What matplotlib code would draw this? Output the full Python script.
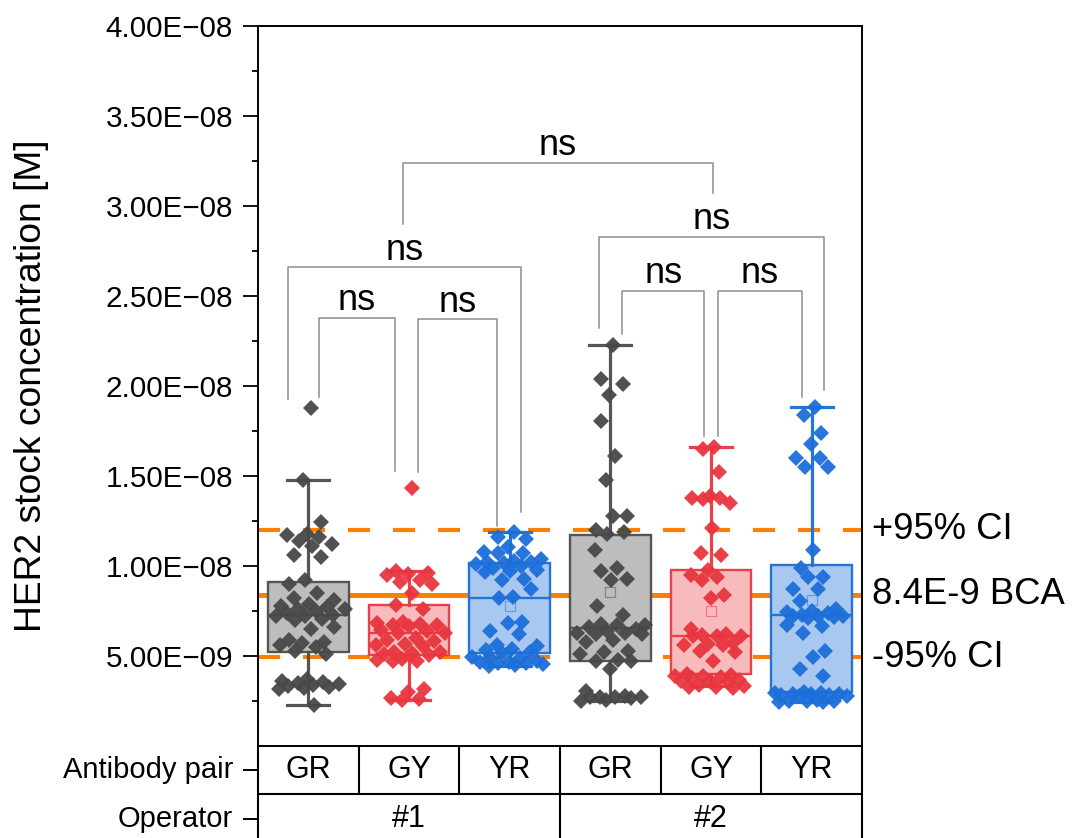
import matplotlib
matplotlib.use("Agg")
import matplotlib.pyplot as plt
import numpy as np
from matplotlib.ticker import FixedLocator, FuncFormatter

plt.rcParams['font.family'] = ['Liberation Sans', 'DejaVu Sans']

# ---------------- data (values in units of 1e-9 M) ----------------
pairs = ["GR", "GY", "YR", "GR", "GY", "YR"]
operators = ["#1", "#2"]

gr1 = [18.76, 14.8, 12.46, 11.8, 11.7, 11.6, 11.4, 11.2, 11.1, 10.6, 10.5, 9.2, 9.0, 8.5, 8.2, 8.1,
       7.9, 7.8, 7.7, 7.6, 7.6, 7.5, 7.4, 7.3, 7.2, 7.2, 7.05, 7.0, 6.6, 6.5, 5.9, 5.8, 5.7, 5.6,
       5.5, 5.3, 5.1, 3.7, 3.6, 3.55, 3.5, 3.45, 3.4, 3.35, 3.3, 3.2, 3.15, 2.3]
gy1 = [14.35, 9.7, 9.6, 9.55, 9.5, 9.2, 9.1, 9.0, 8.5, 7.85, 7.6, 6.9, 6.85, 6.8, 6.75, 6.7, 6.65,
       6.45, 6.4, 6.3, 6.26, 6.0, 5.9, 5.85, 5.65, 5.6, 5.55, 5.25, 5.2, 5.15, 5.1, 5.05, 4.85, 4.8,
       4.75, 4.7, 3.17, 2.98, 2.65, 2.6, 2.56]
yr1 = [11.87, 11.6, 11.5, 11.04, 10.8, 10.75, 10.7, 10.4, 10.3, 10.25, 10.2, 10.15, 10.1, 10.0, 9.9,
       9.8, 9.7, 9.65, 9.3, 9.25, 8.7, 8.26, 8.2, 6.9, 6.85, 6.4, 6.2, 5.6, 5.55, 5.4, 5.35, 5.2,
       5.15, 4.95, 4.9, 4.9, 4.7, 4.65, 4.65, 4.6, 4.6, 4.55, 4.5, 4.43]
gr2 = [22.26, 20.4, 20.1, 19.5, 18.07, 16.1, 14.8, 12.8, 12.8, 12.0, 11.9, 11.8, 10.9, 9.9, 9.7, 9.3,
       9.2, 7.8, 7.3, 6.8, 6.7, 6.7, 6.6, 6.5, 6.4, 6.3, 6.3, 6.2, 6.2, 5.9, 5.8, 5.3, 5.2, 5.1, 4.8,
       4.75, 4.7, 4.28, 3.07, 2.8, 2.75, 2.7, 2.7, 2.7, 2.65, 2.55, 2.52]
gy2 = [16.6, 16.5, 15.2, 13.9, 13.8, 13.8, 13.7, 13.5, 12.1, 10.7, 10.6, 9.8, 9.5, 9.4, 9.2, 8.4, 8.2,
       6.5, 6.2, 6.15, 6.1, 6.1, 6.09, 5.7, 5.65, 5.6, 5.6, 5.3, 5.25, 4.74, 4.0, 3.95, 3.9, 3.9,
       3.85, 3.8, 3.65, 3.6, 3.6, 3.55, 3.4, 3.35, 3.3, 3.3, 3.25]
yr2 = [18.85, 18.4, 17.4, 16.8, 16.0, 16.0, 15.5, 15.5, 10.9, 9.9, 9.4, 9.4, 8.7, 8.7, 8.07, 7.6, 7.5,
       7.45, 7.4, 7.3, 7.25, 7.2, 7.2, 7.15, 7.1, 6.7, 6.65, 6.3, 5.3, 4.94, 4.28, 3.9, 3.0, 2.95,
       2.95, 2.9, 2.9, 2.9, 2.85, 2.85, 2.8, 2.8, 2.55, 2.5, 2.5, 2.5, 2.45, 2.43]

q1 = [5.24, 5.06, 5.17, 4.74, 4.00, 2.98]
medians = [7.29, 6.26, 8.22, 6.56, 6.09, 7.28]
q3 = [9.13, 7.85, 10.17, 11.74, 9.78, 10.06]
whislo = [2.28, 2.56, 4.43, 2.52, 3.35, 2.43]
whishi = [14.8, 9.7, 11.87, 22.28, 16.6, 18.85]
means = [7.6, 6.6, 7.8, 8.57, 7.52, 8.13]

bca = 8.4        # BCA reference
ci_hi = 12.02
ci_lo = 4.93

# significance brackets: x1, x2 (category units), top, left-leg bottom, right-leg bottom
br_x1 = [0.106, 1.09, -0.2, 0.94, 2.89, 3.12, 4.07]
br_x2 = [0.861, 1.875, 2.11, 4.02, 5.12, 3.93, 4.90]
br_top = [23.8, 23.7, 26.6, 32.4, 28.3, 25.3, 25.3]
br_left = [19.4, 15.2, 19.3, 29.0, 23.2, 22.9, 17.2]
br_right = [15.3, 12.2, 13.0, 30.7, 19.8, 17.2, 19.4]
br_label = ["ns"] * 7

S = 1e-9
groups = [gr1, gy1, yr1, gr2, gy2, yr2]

edge_c = {"GR": "#555555", "GY": "#E8414B", "YR": "#2574D8"}
fill_c = {"GR": "#BDBDBD", "GY": "#F7BABD", "YR": "#A9C8F0"}
pt_c = {"GR": "#484848", "GY": "#E8353F", "YR": "#1C6FDA"}
orange = "#FF7F00"

fig = plt.figure(figsize=(10.72, 8.38), dpi=100)
ax = fig.add_axes([258 / 1072, 1 - 746 / 838, 604 / 1072, 720 / 838])

# reference lines (behind boxes)
ax.axhline(bca * S, color=orange, lw=3.6, zorder=1)
ax.axhline(ci_hi * S, color=orange, lw=3.0, ls=(0, (5.3, 5.5)), zorder=1)
ax.axhline(ci_lo * S, color=orange, lw=3.0, ls=(0, (5.3, 5.5)), zorder=1)

# boxes
stats = []
for i in range(6):
    stats.append(dict(med=medians[i] * S, q1=q1[i] * S, q3=q3[i] * S,
                      whislo=whislo[i] * S, whishi=whishi[i] * S,
                      mean=means[i] * S, fliers=[]))
positions = np.arange(6)
bp = ax.bxp(stats, positions=positions, widths=0.8, patch_artist=True, showmeans=True,
            capwidths=0.42, manage_ticks=False, zorder=2)
for i, p in enumerate(pairs):
    ec, fc = edge_c[p], fill_c[p]
    bp['boxes'][i].set(facecolor=fc, edgecolor=ec, linewidth=1.7)
    bp['medians'][i].set(color=ec, linewidth=1.7)
    for k in (2 * i, 2 * i + 1):
        bp['whiskers'][k].set(color=ec, linewidth=2.3)
        bp['caps'][k].set(color=ec, linewidth=2.3)
    bp['means'][i].set(marker='s', markerfacecolor='none', markeredgecolor=ec,
                       markersize=7, markeredgewidth=0.9, alpha=0.55, zorder=3)

# points with density-based deterministic spread
for i, p in enumerate(pairs):
    v = np.array(groups[i])
    d = np.array([np.exp(-((v - x) / 0.8) ** 2).sum() for x in v])
    scale = np.sqrt(d / d.max())
    u = ((np.arange(len(v)) + 1) * 0.6180339887) % 1 - 0.5
    xs = i + u * 0.76 * scale
    ax.plot(xs, v * S, 'D', color=pt_c[p], markersize=8.3, markeredgewidth=0,
            alpha=0.95, zorder=4, clip_on=False)

# significance brackets
for k in range(len(br_x1)):
    x1, x2 = br_x1[k], br_x2[k]
    ax.plot([x1, x1, x2, x2], [br_left[k] * S, br_top[k] * S, br_top[k] * S, br_right[k] * S],
            color="#8C8C8C", lw=1.1, zorder=2)
    ax.annotate(br_label[k], ((x1 + x2) / 2, br_top[k] * S), xytext=(0, 5.5),
                textcoords='offset points', ha='center', va='baseline', fontsize=26)

# axes formatting
ax.set_xlim(-0.5, 5.5)
ax.set_ylim(0, 4e-8)
ax.set_xticks([])
major = [5e-9 * k for k in range(1, 9)]
minor = [2.5e-9 + 5e-9 * k for k in range(8)]
ax.yaxis.set_major_locator(FixedLocator(major))
ax.yaxis.set_minor_locator(FixedLocator(minor))
ax.yaxis.set_major_formatter(FuncFormatter(lambda v, pos: f"{v:.2E}".replace("-", "\u2212")))
ax.tick_params(axis='y', which='major', length=11, width=1.3, direction='out', pad=7,
               labelsize=21.3)
ax.tick_params(axis='y', which='minor', length=4.5, width=1.3, direction='out')
for s in ax.spines.values():
    s.set_linewidth(1.4)
ax.set_ylabel("HER2 stock concentration [M]", fontsize=26.8)
ax.yaxis.set_label_coords(-0.346, 0.5)

# right-hand labels
ytr = ax.get_yaxis_transform()
ax.text(1.016, ci_hi * S, "+95% CI", transform=ytr, fontsize=26.2, va='center', ha='left')
ax.text(1.016, bca * S, "8.4E-9 BCA", transform=ytr, fontsize=26.2, va='center', ha='left')
ax.text(1.016, ci_lo * S, "-95% CI", transform=ytr, fontsize=26.2, va='center', ha='left')

# table below the axes
xtr = ax.get_xaxis_transform()
r1 = 48 / 720
r2 = 100 / 720
tl = dict(color='black', lw=1.5, clip_on=False, transform=xtr, solid_capstyle='butt')
ax.plot([-0.5, 5.5], [-r1, -r1], **tl)
for k in range(7):
    ax.plot([-0.5 + k, -0.5 + k], [0, -r1], **tl)
for xk in (-0.5, 2.5, 5.5):
    ax.plot([xk, xk], [-r1, -r2], **tl)
for i, p in enumerate(pairs):
    ax.text(i, -r1 / 2, p, transform=xtr, ha='center', va='center', fontsize=22)
for j, op in enumerate(operators):
    ax.text(1 + 3 * j, -(r1 + 25 / 720), op, transform=xtr, ha='center', va='center', fontsize=22)

# row labels with tick marks
y_row1 = -24 / 720
y_row2 = -73 / 720
for yy, lab in ((y_row1, "Antibody pair"), (y_row2, "Operator")):
    ax.plot([-14 / 604, 0], [yy, yy], color='black', lw=1.4, transform=ax.transAxes, clip_on=False)
    ax.text(-25 / 604, yy, lab, transform=ax.transAxes, ha='right', va='center', fontsize=21)

fig.savefig("out.png", dpi=100)
